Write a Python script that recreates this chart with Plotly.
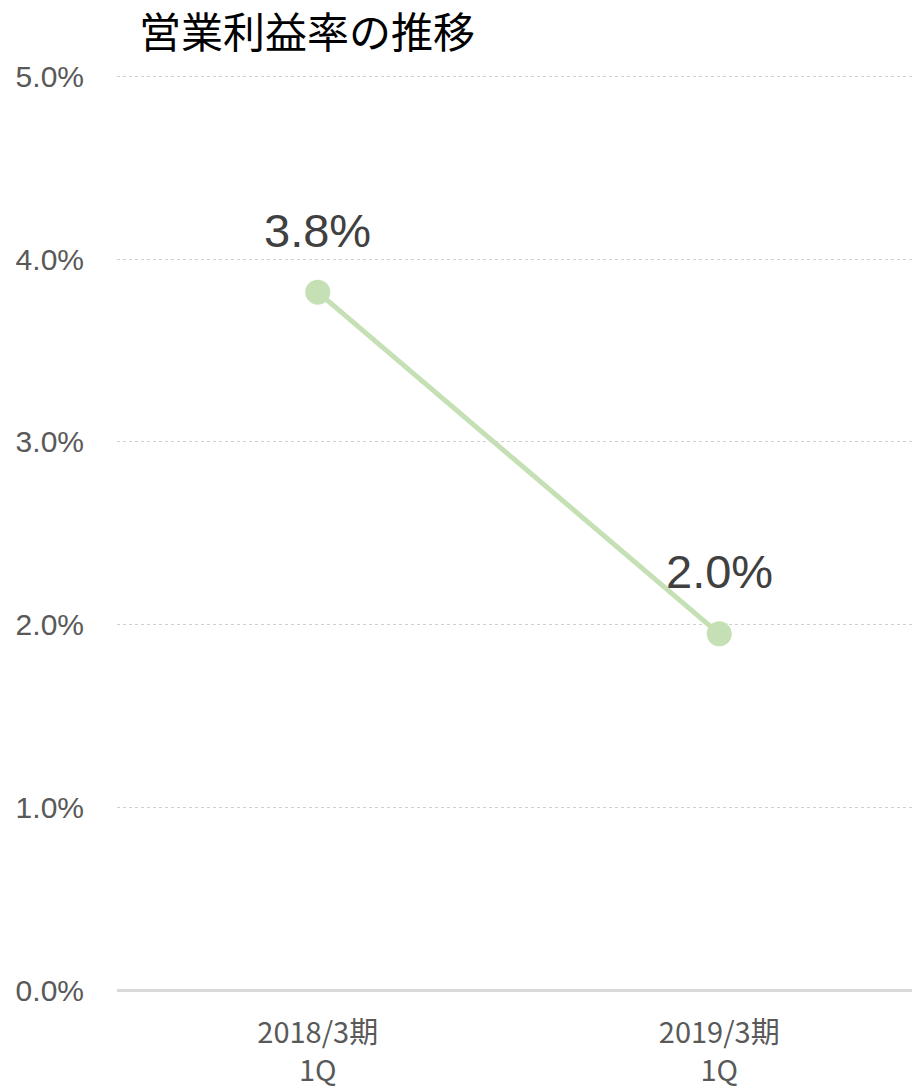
import plotly.graph_objects as go

categories = ["2018/3期<br>1Q", "2019/3期<br>1Q"]
values = [3.82, 1.95]
labels = ["3.8%", "2.0%"]
y_ticks = [0, 1, 2, 3, 4, 5]
y_tick_text = ["0.0%", "1.0%", "2.0%", "3.0%", "4.0%", "5.0%"]

fig = go.Figure()
fig.add_trace(go.Scatter(
    x=categories, y=values, mode="lines+markers",
    line=dict(color="#c5e0b4", width=5),
    marker=dict(color="#c5e0b4", size=25),
    hoverinfo="skip", showlegend=False,
))
for c, v, t in zip(categories, values, labels):
    fig.add_annotation(x=c, y=v, text=t, showarrow=False, yshift=62,
                       font=dict(family="Liberation Sans, Arial", size=47, color="#404040"))

fig.add_annotation(xref="paper", yref="paper", x=0.025, y=1.0, yshift=44,
                   xanchor="left", yanchor="middle", showarrow=False,
                   text="営業利益率の推移",
                   font=dict(family="Noto Sans CJK JP", size=42, color="#000000"))

fig.update_layout(
    width=920, height=1089,
    margin=dict(l=109, r=8, t=65, b=107),
    plot_bgcolor="white", paper_bgcolor="white",
    xaxis=dict(range=[-0.5, 1.5], showgrid=False, showline=False, zeroline=False,
               automargin=False,
               ticks="outside", ticklen=17, tickcolor="rgba(0,0,0,0)",
               tickfont=dict(family="Noto Sans CJK JP", size=29, color="#595959")),
    yaxis=dict(range=[0, 5.02], tickvals=y_ticks, ticktext=y_tick_text,
               automargin=False,
               showgrid=True, gridcolor="#d0d0d0", griddash="dot", gridwidth=1,
               zeroline=True, zerolinecolor="#d9d9d9", zerolinewidth=3,
               showline=False, ticks="outside", ticklen=26, tickcolor="rgba(0,0,0,0)",
               tickfont=dict(family="Liberation Sans, Arial", size=30, color="#595959")),
)
fig.write_html("out.html")
